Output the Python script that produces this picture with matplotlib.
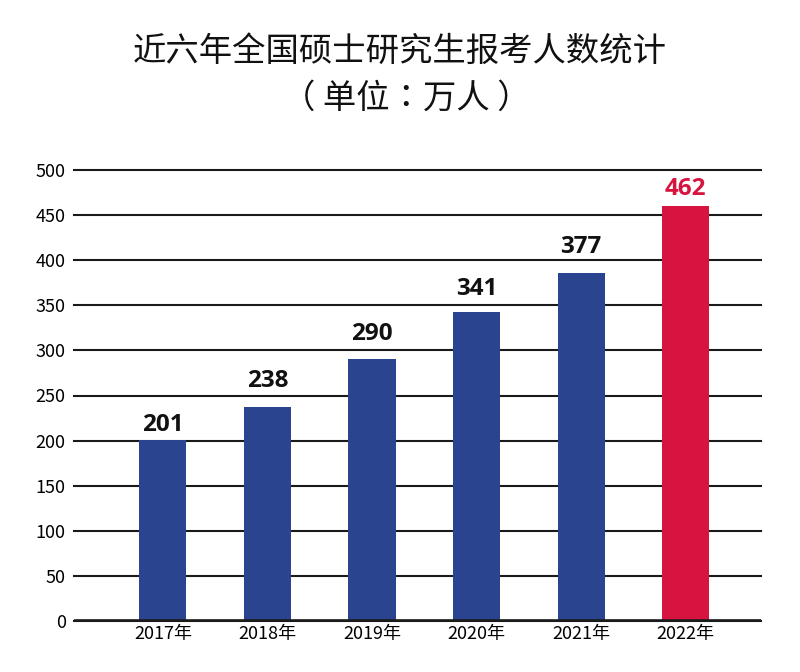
import matplotlib
matplotlib.use("Agg")
import matplotlib.pyplot as plt
from matplotlib.transforms import offset_copy

years = ["2017年", "2018年", "2019年", "2020年", "2021年", "2022年"]
bar_heights = [201, 237, 291, 343, 386, 460]
label_values = [201, 238, 290, 341, 377, 462]
yticks = [0, 50, 100, 150, 200, 250, 300, 350, 400, 450, 500]

BLUE = "#2b448f"
RED = "#d71440"
bar_colors = [BLUE] * 5 + [RED]
label_colors = ["#111111"] * 5 + [RED]
# gap (in points) between bar top and value label, as laid out in the reference
label_gaps = [6, 14.5, 13, 12, 14.5, 8]

CJK = "Noto Sans CJK SC"

fig = plt.figure(figsize=(8.0, 6.72), dpi=100)
ax = fig.add_axes([74 / 800, 1 - 621 / 672, (761 - 74) / 800, (621 - 170) / 672])

x = list(range(len(years)))
ax.bar(x, bar_heights, width=0.45, color=bar_colors, zorder=3)
ax.set_xlim(-0.85, 5.72)
ax.set_ylim(0, 500)
ax.set_yticks(yticks)
ax.yaxis.grid(True, color="#1a1a1a", linewidth=1.5, zorder=0)
ax.set_axisbelow(True)
for gl in ax.get_ygridlines():
    gl.set_clip_on(False)
for s in ["top", "right", "left", "bottom"]:
    ax.spines[s].set_visible(False)
ax.axhline(0, color="#1a1a1a", linewidth=2.6, zorder=4)
ax.tick_params(axis="both", length=0)
ax.tick_params(axis="y", pad=6)
ax.tick_params(axis="x", pad=3)
ax.set_xticks(x)
ax.set_xticklabels(years, family=[CJK, "DejaVu Sans"], fontsize=13)
for t in ax.get_yticklabels():
    t.set_family([CJK, "DejaVu Sans"])
    t.set_fontsize(13)

for xi, h, v, c, g in zip(x, bar_heights, label_values, label_colors, label_gaps):
    tr = offset_copy(ax.transData, fig=fig, x=0, y=g, units="points")
    ax.text(xi, h, str(v), ha="center", va="baseline", fontsize=17.5,
            fontweight="bold", color=c, family=["Open Sans", "DejaVu Sans"],
            transform=tr)

fig.text(0.5, 1 - 51 / 672, "近六年全国硕士研究生报考人数统计", ha="center", va="center",
         fontsize=24, family=[CJK, "DejaVu Sans"], color="#111111")
fig.text(406 / 800, 1 - 98 / 672, "（ 单位：万人 ）", ha="center", va="center",
         fontsize=24, family=["Noto Sans CJK TC", CJK, "DejaVu Sans"], color="#111111")

fig.savefig("out.png", dpi=100, facecolor="white")
